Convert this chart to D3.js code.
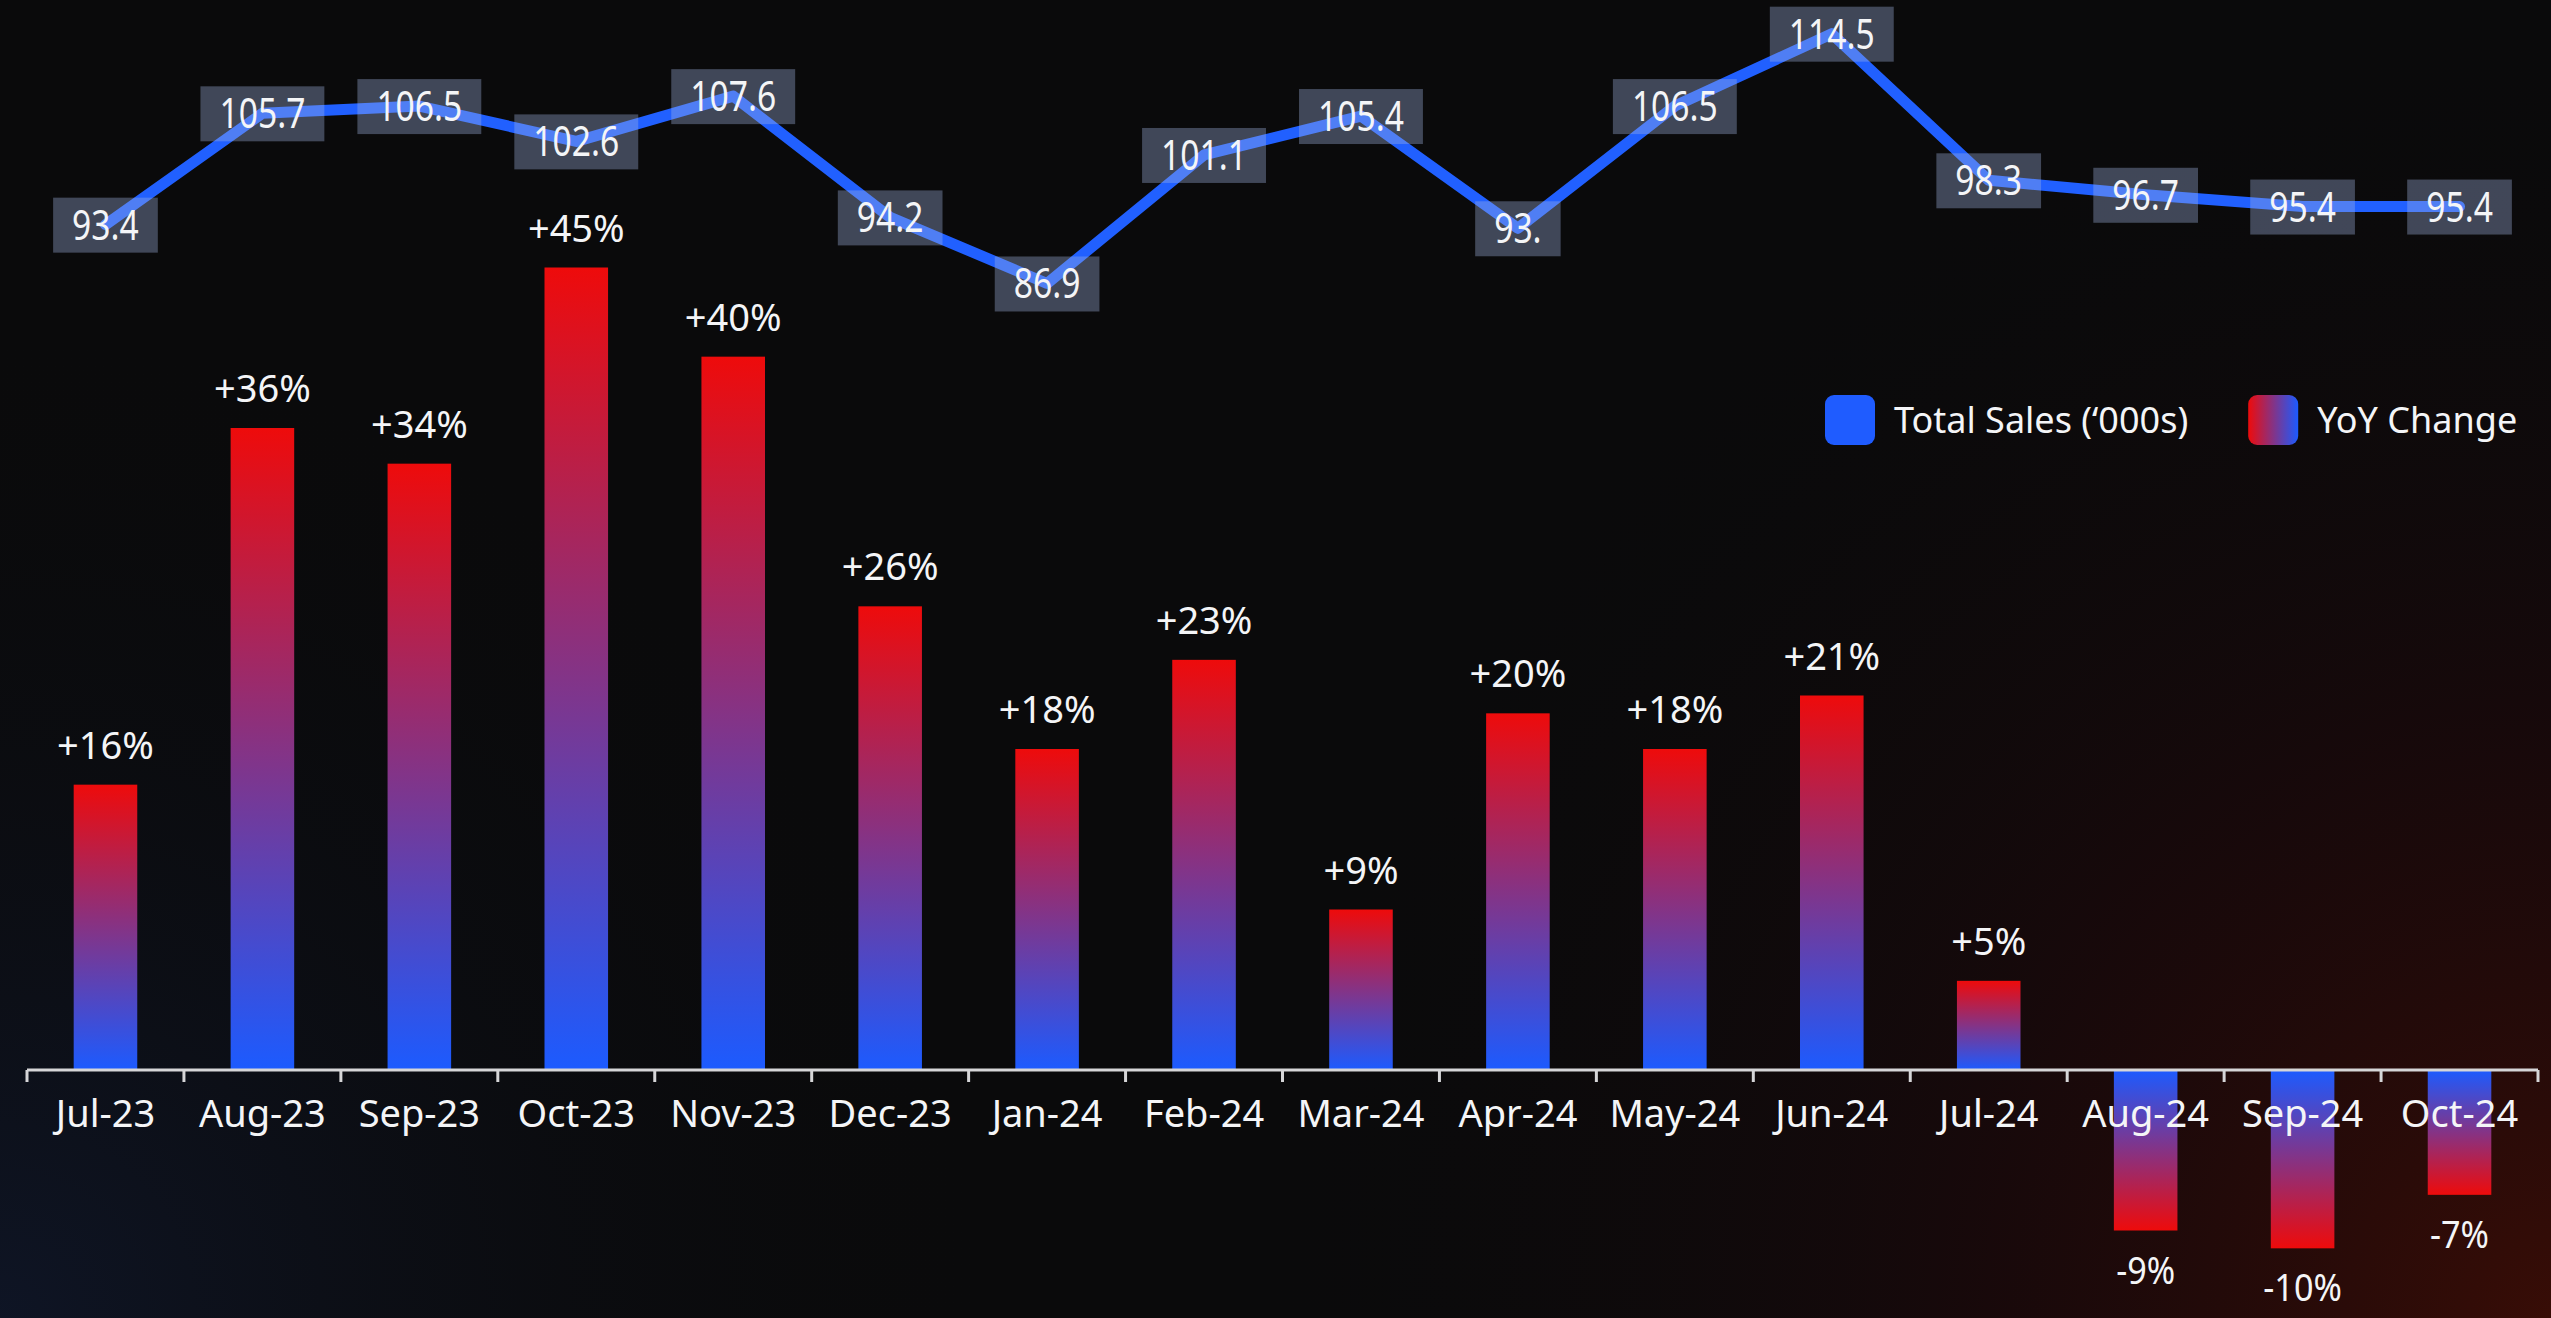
<!DOCTYPE html>
<html>
<head>
<meta charset="utf-8">
<script src="https://cdn.jsdelivr.net/npm/d3@7"></script>
<style>
  html, body { margin: 0; padding: 0; background: #0a0a0b; overflow: hidden; }
  svg { display: block; }
  text { font-family: "Noto Sans", "Open Sans", sans-serif; fill: #f4f5f7; }
</style>
</head>
<body>
<svg id="chart" width="2551" height="1318"></svg>
<script>
// Monthly categories
const months = ["Jul-23", "Aug-23", "Sep-23", "Oct-23", "Nov-23", "Dec-23", "Jan-24", "Feb-24",
                "Mar-24", "Apr-24", "May-24", "Jun-24", "Jul-24", "Aug-24", "Sep-24", "Oct-24"];

// Total sales in thousands (line)
const totalSales = [93.4, 105.7, 106.5, 102.6, 107.6, 94.2, 86.9, 101.1,
                    105.4, 93.0, 106.5, 114.5, 98.3, 96.7, 95.4, 95.4];
const salesLabels = ["93.4", "105.7", "106.5", "102.6", "107.6", "94.2", "86.9", "101.1",
                     "105.4", "93.", "106.5", "114.5", "98.3", "96.7", "95.4", "95.4"];

// Year-over-year change in percent (bars)
const yoyChange = [16, 36, 34, 45, 40, 26, 18, 23, 9, 20, 18, 21, 5, -9, -10, -7];

// Legend entries
const legendLabels = ["Total Sales (\u2018000s)", "YoY Change"];

const W = 2551, H = 1318;
const RED = "#ee0b0b", BLUE = "#1c5bff";
const svg = d3.select("#chart");
const defs = svg.append("defs");

// ---- background with faint coloured glows in the lower corners
const glowR = defs.append("radialGradient").attr("id", "glowRed")
  .attr("gradientUnits", "userSpaceOnUse").attr("cx", W).attr("cy", H).attr("r", 1300);
glowR.append("stop").attr("offset", 0).attr("stop-color", "#3a0d06").attr("stop-opacity", 0.95);
glowR.append("stop").attr("offset", 0.45).attr("stop-color", "#22080a").attr("stop-opacity", 0.55);
glowR.append("stop").attr("offset", 1).attr("stop-color", "#0a0a0b").attr("stop-opacity", 0);

const glowB = defs.append("radialGradient").attr("id", "glowBlue")
  .attr("gradientUnits", "userSpaceOnUse").attr("cx", 0).attr("cy", H).attr("r", 1000);
glowB.append("stop").attr("offset", 0).attr("stop-color", "#0f1628").attr("stop-opacity", 0.9);
glowB.append("stop").attr("offset", 1).attr("stop-color", "#0a0a0b").attr("stop-opacity", 0);

svg.append("rect").attr("width", W).attr("height", H).attr("fill", "#0a0a0b");
svg.append("rect").attr("width", W).attr("height", H).attr("fill", "url(#glowBlue)");
svg.append("rect").attr("width", W).attr("height", H).attr("fill", "url(#glowRed)");

// ---- bar gradients: red at the far end, blue at the baseline
function vGrad(id, topColor, bottomColor) {
  const g = defs.append("linearGradient").attr("id", id)
    .attr("x1", 0).attr("y1", 0).attr("x2", 0).attr("y2", 1);
  g.append("stop").attr("offset", 0).attr("stop-color", topColor);
  g.append("stop").attr("offset", 1).attr("stop-color", bottomColor);
}
vGrad("barUp", RED, BLUE);
vGrad("barDown", BLUE, RED);
const legendGrad = defs.append("linearGradient").attr("id", "legendGrad")
  .attr("x1", 0).attr("y1", 0).attr("x2", 1).attr("y2", 0);
legendGrad.append("stop").attr("offset", 0).attr("stop-color", RED);
legendGrad.append("stop").attr("offset", 1).attr("stop-color", BLUE);

// ---- scales
const axisY = 1070;
const x = d3.scaleBand().domain(months).range([27, 2538]).padding(0);
const yBar = d3.scaleLinear().domain([0, 60]).range([axisY, 0]);
const yLine = d3.scaleLinear().domain([0, 118]).range([axisY, 2]);
const cx = m => x(m) + x.bandwidth() / 2;
const barW = x.bandwidth() * 0.405;

const rows = months.map((m, i) => ({ m, yoy: yoyChange[i], sales: totalSales[i], label: salesLabels[i] }));

// ---- bars
svg.append("g").selectAll("rect").data(rows).join("rect")
  .attr("x", d => cx(d.m) - barW / 2)
  .attr("width", barW)
  .attr("y", d => Math.min(yBar(d.yoy), yBar(0)))
  .attr("height", d => Math.abs(yBar(d.yoy) - yBar(0)))
  .attr("fill", d => d.yoy >= 0 ? "url(#barUp)" : "url(#barDown)");

// ---- bar value labels
svg.append("g").selectAll("text").data(rows).join("text")
  .attr("transform", d => d.yoy >= 0
    ? `translate(${cx(d.m)},${yBar(d.yoy) - 26})`
    : `translate(${cx(d.m)},${yBar(d.yoy) + 53}) scale(0.9,1)`)
  .attr("text-anchor", "middle")
  .attr("font-size", 38)
  .text(d => (d.yoy > 0 ? "+" : "") + d.yoy + "%");

// ---- x axis: labels centred in bands, ticks at band edges
const axisG = svg.append("g").attr("transform", `translate(0,${axisY})`)
  .call(d3.axisBottom(x).tickSize(0).tickPadding(0));
axisG.select(".domain").remove();
axisG.selectAll(".tick text")
  .attr("y", 57).attr("dy", 0)
  .attr("font-size", 38)
  .attr("font-family", "\"Noto Sans\", \"Open Sans\", sans-serif")
  .attr("fill", "#f4f5f7");
axisG.append("line").attr("x1", x.range()[0]).attr("x2", x.range()[1])
  .attr("stroke", "#d6d6d8").attr("stroke-width", 3);
const edges = months.map(m => x(m)).concat([x.range()[1]]);
axisG.selectAll(".edge").data(edges).join("line").attr("class", "edge")
  .attr("x1", d => d).attr("x2", d => d).attr("y1", 0).attr("y2", 12)
  .attr("stroke", "#d6d6d8").attr("stroke-width", 3);

// ---- sales line
const line = d3.line().x(d => cx(d.m)).y(d => yLine(d.sales));
svg.append("path").datum(rows)
  .attr("d", line)
  .attr("fill", "none")
  .attr("stroke", "#2160ff")
  .attr("stroke-width", 11)
  .attr("stroke-linejoin", "round")
  .attr("stroke-linecap", "round");

// ---- sales value labels in translucent boxes
const lab = svg.append("g").selectAll("g").data(rows).join("g")
  .attr("transform", d => `translate(${cx(d.m)},${yLine(d.sales)})`);
const sx = 0.82;
lab.append("text")
  .attr("transform", `scale(${sx},1)`)
  .attr("text-anchor", "middle")
  .attr("y", 15)
  .attr("font-size", 41)
  .text(d => d.label);
lab.each(function () {
  const g = d3.select(this);
  const w = g.select("text").node().getComputedTextLength() * sx + 38;
  g.insert("rect", "text")
    .attr("x", -w / 2).attr("y", -27).attr("width", w).attr("height", 55)
    .attr("fill", "rgba(160,180,225,0.36)");
});

// ---- legend
const legend = svg.append("g");
let lx = 1825;
legendLabels.forEach((name, i) => {
  legend.append("rect").attr("x", lx).attr("y", 395).attr("width", 50).attr("height", 50)
    .attr("rx", 9).attr("fill", i === 0 ? "#1f5cff" : "url(#legendGrad)");
  const t = legend.append("text").attr("x", lx + 69).attr("y", 433)
    .attr("font-size", 36).text(name);
  lx = lx + 69 + t.node().getComputedTextLength() + 60;
});
</script>
</body>
</html>
